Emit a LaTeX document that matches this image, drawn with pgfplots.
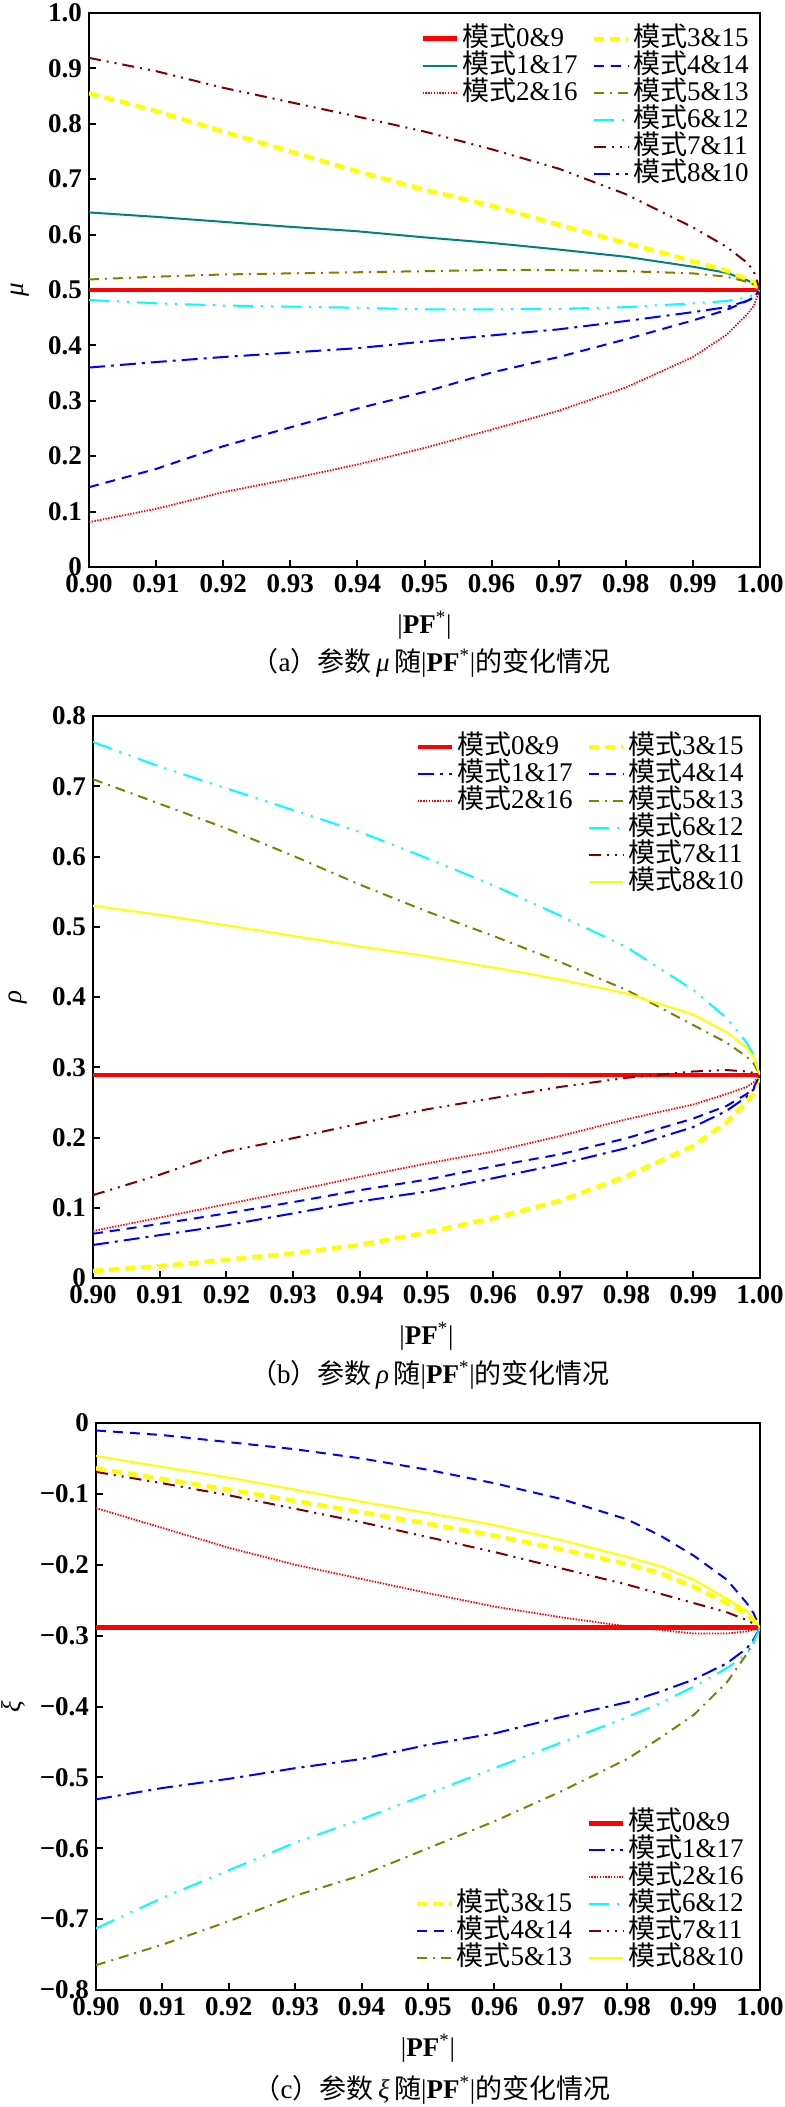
\documentclass[border=0pt]{standalone}
\usepackage{pgfplots}
\pgfplotsset{compat=1.18}
\usepackage{pgfplotstable}
\usepackage{fontspec}
\setmainfont{Liberation Serif}
\newfontfamily\cjk{Noto Sans CJK SC}
\definecolor{maroonc}{RGB}{128,0,0}
\definecolor{tealc}{RGB}{0,128,128}
\definecolor{olivec}{RGB}{128,128,0}
\definecolor{cyanc}{RGB}{0,255,255}
\definecolor{yellowc}{RGB}{255,255,0}
\definecolor{bluec}{RGB}{0,0,255}
\definecolor{redc}{RGB}{255,0,0}

\pgfplotstableread{
x m0 m1 m2 m3 m4 m5 m6 m7 m8
0.90 0.5 0.640 0.081 0.855 0.144 0.519 0.482 0.919 0.360
0.91 0.5 0.632 0.105 0.823 0.177 0.524 0.476 0.895 0.370
0.92 0.5 0.623 0.135 0.786 0.218 0.528 0.472 0.865 0.379
0.93 0.5 0.614 0.159 0.750 0.252 0.530 0.470 0.839 0.387
0.94 0.5 0.606 0.185 0.714 0.286 0.532 0.468 0.813 0.395
0.95 0.5 0.595 0.215 0.681 0.316 0.534 0.465 0.786 0.407
0.96 0.5 0.585 0.248 0.652 0.351 0.536 0.465 0.754 0.418
0.97 0.5 0.573 0.282 0.618 0.379 0.536 0.466 0.719 0.429
0.98 0.5 0.560 0.324 0.585 0.411 0.534 0.469 0.673 0.444
0.99 0.5 0.542 0.379 0.552 0.445 0.530 0.476 0.613 0.460
0.995 0.5 0.531 0.419 0.535 0.464 0.524 0.480 0.578 0.469
0.998 0.5 0.518 0.455 0.520 0.480 0.515 0.487 0.550 0.480
0.999 0.5 0.512 0.470 0.514 0.486 0.510 0.491 0.536 0.486
1.000 0.5 0.5 0.5 0.5 0.5 0.5 0.5 0.5 0.5
}\dataA

\pgfplotstableread{
x m0 m1 m2 m3 m4 m5 m6 m7 m8
0.90 0.289 0.047 0.067 0.010 0.063 0.710 0.763 0.118 0.530
0.91 0.289 0.061 0.086 0.017 0.077 0.675 0.728 0.147 0.517
0.92 0.289 0.075 0.105 0.026 0.092 0.640 0.697 0.180 0.502
0.93 0.289 0.092 0.124 0.035 0.108 0.601 0.666 0.199 0.487
0.94 0.289 0.109 0.144 0.047 0.125 0.560 0.635 0.220 0.472
0.95 0.289 0.123 0.163 0.065 0.140 0.522 0.598 0.240 0.458
0.96 0.289 0.142 0.180 0.085 0.159 0.487 0.559 0.256 0.442
0.97 0.289 0.162 0.202 0.110 0.176 0.450 0.516 0.272 0.425
0.98 0.289 0.185 0.226 0.145 0.199 0.410 0.471 0.285 0.405
0.99 0.289 0.215 0.247 0.188 0.227 0.360 0.410 0.294 0.375
0.995 0.289 0.238 0.262 0.222 0.245 0.335 0.370 0.296 0.350
0.998 0.289 0.258 0.272 0.250 0.262 0.315 0.335 0.294 0.328
0.999 0.289 0.268 0.278 0.263 0.270 0.306 0.318 0.292 0.315
1.000 0.289 0.289 0.289 0.289 0.289 0.289 0.289 0.289 0.289
}\dataB

\pgfplotstableread{
x m0 m1 m2 m3 m4 m5 m6 m7 m8
0.90 -0.289 -0.531 -0.120 -0.064 -0.0105 -0.765 -0.713 -0.069 -0.0465
0.91 -0.289 -0.515 -0.148 -0.079 -0.017 -0.736 -0.670 -0.085 -0.062
0.92 -0.289 -0.502 -0.176 -0.094 -0.027 -0.703 -0.631 -0.102 -0.077
0.93 -0.289 -0.487 -0.200 -0.110 -0.037 -0.667 -0.592 -0.121 -0.094
0.94 -0.289 -0.474 -0.220 -0.126 -0.050 -0.638 -0.559 -0.140 -0.111
0.95 -0.289 -0.454 -0.240 -0.142 -0.066 -0.600 -0.523 -0.161 -0.127
0.96 -0.289 -0.438 -0.259 -0.159 -0.085 -0.562 -0.487 -0.182 -0.144
0.97 -0.289 -0.415 -0.274 -0.178 -0.107 -0.520 -0.451 -0.205 -0.165
0.98 -0.289 -0.394 -0.287 -0.199 -0.136 -0.474 -0.415 -0.228 -0.189
0.985 -0.289 -0.379 -0.292 -0.212 -0.159 -0.444 -0.395 -0.241 -0.202
0.99 -0.289 -0.362 -0.297 -0.231 -0.187 -0.412 -0.372 -0.254 -0.221
0.995 -0.289 -0.339 -0.297 -0.254 -0.221 -0.366 -0.346 -0.267 -0.248
0.998 -0.289 -0.318 -0.294 -0.270 -0.254 -0.326 -0.326 -0.278 -0.265
0.999 -0.289 -0.306 -0.292 -0.278 -0.268 -0.310 -0.310 -0.283 -0.275
1.000 -0.289 -0.289 -0.289 -0.289 -0.289 -0.289 -0.289 -0.289 -0.289
}\dataC

\pgfplotsset{
  sA/.style={color=redc, line width=2.4pt},
  sTeal/.style={color=tealc, line width=1pt},
  sDashDot/.style={color=bluec, line width=1pt, dash pattern=on 8pt off 3pt on 1.5pt off 3pt},
  sDot/.style={color=redc, line width=0.9pt, dash pattern=on 0.7pt off 0.7pt},
  sYD/.style={color=yellowc, line width=2.2pt, dash pattern=on 5pt off 3pt},
  sBD/.style={color=bluec, line width=1pt, dash pattern=on 5pt off 3.5pt},
  sOl/.style={color=olivec, line width=1pt, dash pattern=on 5pt off 3pt on 1pt off 3pt},
  sCy/.style={color=cyanc, line width=1pt, dash pattern=on 10pt off 4pt on 1pt off 4pt on 1pt off 4pt},
  sMa/.style={color=maroonc, line width=1pt, dash pattern=on 6pt off 3pt on 1pt off 3pt on 1pt off 3pt},
  sYS/.style={color=yellowc, line width=1pt},
  base/.style={
    scale only axis, xmin=0.9, xmax=1.0,
    tick align=inside, xtick pos=bottom, ytick pos=left,
    major tick length=3.5pt,
    axis line style={line width=1pt},
    every tick/.style={line width=1pt, black},
    xtick={0.90,0.91,0.92,0.93,0.94,0.95,0.96,0.97,0.98,0.99,1.00},
    xticklabels={0.90,0.91,0.92,0.93,0.94,0.95,0.96,0.97,0.98,0.99,1.00},
    tick label style={font=\rmfamily\fontsize{13.5}{14}\selectfont\bfseries},
    label style={font=\rmfamily\fontsize{13.5}{14}\selectfont},
    xlabel={|\textbf{PF}\textsuperscript{*}|},
    xlabel style={at={(axis description cs:0.5,0)}, anchor=center, yshift=-29pt},
    legend columns=2, legend cell align=left,
    legend style={draw=none, fill=none, font=\rmfamily\fontsize{13.5}{13.5}\selectfont,
      nodes={inner sep=0pt, text height=10.5pt, text depth=3pt},
      /tikz/every even column/.append style={column sep=7pt},
      /tikz/every odd column/.append style={column sep=1.5pt}},
  },
}

\begin{document}
\begin{tikzpicture}[font=\rmfamily\fontsize{13.5}{14}\selectfont]
\useasboundingbox (0,0) rectangle (392pt,-1053.5pt);

% ---------- (a) ----------
\begin{axis}[base, at={(44.5pt,-6.5pt)}, anchor=north west,
  width=335.5pt, height=277pt, ymin=0, ymax=1,
  ytick={0,0.1,0.2,0.3,0.4,0.5,0.6,0.7,0.8,0.9,1.0},
  yticklabels={0,0.1,0.2,0.3,0.4,0.5,0.6,0.7,0.8,0.9,1.0},
  ylabel={\textit{μ}},
  ylabel style={at={(axis description cs:0,0.5)}, anchor=center, yshift=34.5pt},
  legend style={at={(1,1)}, anchor=north east, xshift=-2.5pt, yshift=-4pt}]
\addplot[sA, forget plot] table[x=x, y=m0] {\dataA};
\addplot[sTeal, forget plot] table[x=x, y=m1] {\dataA};
\addplot[sDot, forget plot] table[x=x, y=m2] {\dataA};
\addplot[sYD, forget plot] table[x=x, y=m3] {\dataA};
\addplot[sBD, forget plot] table[x=x, y=m4] {\dataA};
\addplot[sOl, forget plot] table[x=x, y=m5] {\dataA};
\addplot[sCy, forget plot] table[x=x, y=m6] {\dataA};
\addplot[sMa, forget plot] table[x=x, y=m7] {\dataA};
\addplot[sDashDot, forget plot] table[x=x, y=m8] {\dataA};
\addlegendimage{sA}\addlegendentry{{\cjk 模式}0\&9}
\addlegendimage{sYD}\addlegendentry{{\cjk 模式}3\&15}
\addlegendimage{sTeal}\addlegendentry{{\cjk 模式}1\&17}
\addlegendimage{sBD}\addlegendentry{{\cjk 模式}4\&14}
\addlegendimage{sDot}\addlegendentry{{\cjk 模式}2\&16}
\addlegendimage{sOl}\addlegendentry{{\cjk 模式}5\&13}
\addlegendimage{empty legend}\addlegendentry{}
\addlegendimage{sCy}\addlegendentry{{\cjk 模式}6\&12}
\addlegendimage{empty legend}\addlegendentry{}
\addlegendimage{sMa}\addlegendentry{{\cjk 模式}7\&11}
\addlegendimage{empty legend}\addlegendentry{}
\addlegendimage{sDashDot}\addlegendentry{{\cjk 模式}8\&10}
\end{axis}
\node at (215.5pt,-331.5pt) {{\cjk （}a{\cjk ）参数}\,\textit{μ}\,{\cjk 随}|\textbf{PF}\textsuperscript{*}|{\cjk 的变化情况}};

% ---------- (b) ----------
\begin{axis}[base, at={(46.5pt,-358pt)}, anchor=north west,
  width=333.5pt, height=281pt, ymin=0, ymax=0.8,
  ytick={0,0.1,0.2,0.3,0.4,0.5,0.6,0.7,0.8},
  yticklabels={0,0.1,0.2,0.3,0.4,0.5,0.6,0.7,0.8},
  ylabel={\textit{ρ}},
  ylabel style={at={(axis description cs:0,0.5)}, anchor=center, yshift=37.5pt},
  legend style={at={(1,1)}, anchor=north east, xshift=-5pt, yshift=-6.5pt}]
\addplot[sA, forget plot] table[x=x, y=m0] {\dataB};
\addplot[sDashDot, forget plot] table[x=x, y=m1] {\dataB};
\addplot[sDot, forget plot] table[x=x, y=m2] {\dataB};
\addplot[sYD, forget plot] table[x=x, y=m3] {\dataB};
\addplot[sBD, forget plot] table[x=x, y=m4] {\dataB};
\addplot[sOl, forget plot] table[x=x, y=m5] {\dataB};
\addplot[sCy, forget plot] table[x=x, y=m6] {\dataB};
\addplot[sMa, forget plot] table[x=x, y=m7] {\dataB};
\addplot[sYS, forget plot] table[x=x, y=m8] {\dataB};
\addlegendimage{sA}\addlegendentry{{\cjk 模式}0\&9}
\addlegendimage{sYD}\addlegendentry{{\cjk 模式}3\&15}
\addlegendimage{sDashDot}\addlegendentry{{\cjk 模式}1\&17}
\addlegendimage{sBD}\addlegendentry{{\cjk 模式}4\&14}
\addlegendimage{sDot}\addlegendentry{{\cjk 模式}2\&16}
\addlegendimage{sOl}\addlegendentry{{\cjk 模式}5\&13}
\addlegendimage{empty legend}\addlegendentry{}
\addlegendimage{sCy}\addlegendentry{{\cjk 模式}6\&12}
\addlegendimage{empty legend}\addlegendentry{}
\addlegendimage{sMa}\addlegendentry{{\cjk 模式}7\&11}
\addlegendimage{empty legend}\addlegendentry{}
\addlegendimage{sYS}\addlegendentry{{\cjk 模式}8\&10}
\end{axis}
\node at (215pt,-687.5pt) {{\cjk （}b{\cjk ）参数}\,\textit{ρ}\,{\cjk 随}|\textbf{PF}\textsuperscript{*}|{\cjk 的变化情况}};

% ---------- (c) ----------
\begin{axis}[base, at={(48pt,-711.5pt)}, anchor=north west,
  width=332pt, height=283.5pt, ymin=-0.8, ymax=0,
  ytick={-0.8,-0.7,-0.6,-0.5,-0.4,-0.3,-0.2,-0.1,0},
  yticklabels={−0.8,−0.7,−0.6,−0.5,−0.4,−0.3,−0.2,−0.1,0},
  ylabel={\textit{ξ}},
  ylabel style={at={(axis description cs:0,0.5)}, anchor=center, yshift=41.5pt},
  legend style={at={(1,0)}, anchor=south east, xshift=-5pt, yshift=7pt}]
\addplot[sA, forget plot] table[x=x, y=m0] {\dataC};
\addplot[sDashDot, forget plot] table[x=x, y=m1] {\dataC};
\addplot[sDot, forget plot] table[x=x, y=m2] {\dataC};
\addplot[sYD, forget plot] table[x=x, y=m3] {\dataC};
\addplot[sBD, forget plot] table[x=x, y=m4] {\dataC};
\addplot[sOl, forget plot] table[x=x, y=m5] {\dataC};
\addplot[sCy, forget plot] table[x=x, y=m6] {\dataC};
\addplot[sMa, forget plot] table[x=x, y=m7] {\dataC};
\addplot[sYS, forget plot] table[x=x, y=m8] {\dataC};
\addlegendimage{empty legend}\addlegendentry{}
\addlegendimage{sA}\addlegendentry{{\cjk 模式}0\&9}
\addlegendimage{empty legend}\addlegendentry{}
\addlegendimage{sDashDot}\addlegendentry{{\cjk 模式}1\&17}
\addlegendimage{empty legend}\addlegendentry{}
\addlegendimage{sDot}\addlegendentry{{\cjk 模式}2\&16}
\addlegendimage{sYD}\addlegendentry{{\cjk 模式}3\&15}
\addlegendimage{sCy}\addlegendentry{{\cjk 模式}6\&12}
\addlegendimage{sBD}\addlegendentry{{\cjk 模式}4\&14}
\addlegendimage{sMa}\addlegendentry{{\cjk 模式}7\&11}
\addlegendimage{sOl}\addlegendentry{{\cjk 模式}5\&13}
\addlegendimage{sYS}\addlegendentry{{\cjk 模式}8\&10}
\end{axis}
\node at (216pt,-1045pt) {{\cjk （}c{\cjk ）参数}\,\textit{ξ}\,{\cjk 随}|\textbf{PF}\textsuperscript{*}|{\cjk 的变化情况}};
\end{tikzpicture}
\end{document}
